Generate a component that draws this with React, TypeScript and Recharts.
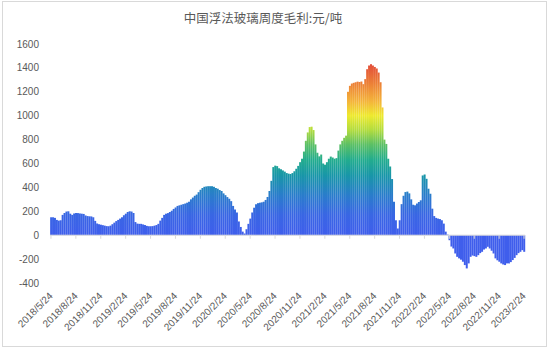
import React from "react"
import { BarChart, Bar, XAxis, YAxis, ReferenceLine } from "recharts"

// weekly float glass gross profit (CNY/ton), starting 2018/5/24
const tickLabels = [
  "2018/5/24", "2018/8/24", "2018/11/24", "2019/2/24", "2019/5/24",
  "2019/8/24", "2019/11/24", "2020/2/24", "2020/5/24", "2020/8/24",
  "2020/11/24", "2021/2/24", "2021/5/24", "2021/8/24", "2021/11/24",
  "2022/2/24", "2022/5/24", "2022/8/24", "2022/11/24", "2023/2/24",
]

const profit2018 = [
  150, 150, 145, 128, 122, 125, 170, 185, 198, 200, 180, 170, 182, 186, 185, 182,
  180, 178, 165, 160, 158, 157, 150, 120, 98, 92, 88, 84, 80, 76, 75, 80,
]
const profit2019 = [
  92, 105, 118, 128, 139, 150, 167, 180, 194, 200, 198, 186, 110,
  97, 95, 95, 90, 85, 78, 75, 75, 76, 80, 85, 95,
  122, 145, 170, 180, 185, 194, 205, 220, 232, 245, 250, 255, 260, 265, 272, 280,
  300, 315, 330, 340, 360, 380, 395, 405, 408, 410, 410,
]
const profit2020 = [
  410, 405, 395, 389, 378, 370, 350, 335, 319, 305, 285, 245, 215, 190, 115, 69,
  30, 14, 50, 95, 139, 190, 230, 258, 268, 272, 275, 280, 295, 320, 370, 455,
  570, 582, 578, 560, 552, 542, 532, 520, 515, 512, 520, 535, 556, 580, 611, 640,
  700, 790, 860, 905, 908,
]
const profit2021 = [
  880, 760, 690, 660, 675, 600, 590, 611, 640, 658, 650, 640, 645, 708, 760, 790,
  815, 833, 1200, 1250, 1269, 1275, 1280, 1285, 1282, 1286, 1264, 1306, 1389, 1420,
  1431, 1420, 1408, 1395, 1361, 1280, 1069, 800, 764, 640, 575, 470, 280, 125, 56,
  125, 260, 330, 361, 365, 350, 300,
]
const profit2022 = [
  255, 250, 265, 278, 292, 500, 508, 472, 389, 347, 222, 160, 145, 139, 135, 125,
  97, 30, 5, -42, -95, -111, -153, -181, -194, -205, -222, -250, -278, -236, -181,
  -170, -175, -181, -167, -150, -139, -120, -111, -97, -111, -130, -153, -194, -210,
  -222, -236, -245, -250, -236, -236, -225,
]
const profit2023 = [-208, -190, -167, -150, -139, -125, -139]

const profit = [...profit2018, ...profit2019, ...profit2020, ...profit2021, ...profit2022, ...profit2023]
const data = profit.map((v, i) => ({ week: i, profit: v }))

const Y_MIN = -400
const Y_MAX = 1600
const yTicks = [-400, -200, 0, 200, 400, 600, 800, 1000, 1200, 1400, 1600]
const LABEL_STEP = 13

const PLOT_TOP = 44
const PLOT_H = 239

// colour by value, painted across the whole plot height
const colorStops: [number, string][] = [
  [1450, "#E2483A"],
  [1270, "#EC8036"],
  [1120, "#F4B43A"],
  [1000, "#EEEA2E"],
  [880, "#B2DC3E"],
  [760, "#5CC064"],
  [630, "#22AC8E"],
  [500, "#1896A8"],
  [330, "#2A7CCC"],
  [170, "#3966E4"],
  [0, "#3F5EEC"],
  [-400, "#3F5EEC"],
]

const TEXT = "#595959"
const LINE = "#d9d9d9"

const DateTick = (props: any) => {
  const { x, y, payload } = props
  const label = tickLabels[payload.value / LABEL_STEP] ?? ""
  return (
    <g transform={`translate(${x},${y + 3})`}>
      <text textAnchor="end" transform="rotate(-45)" dy="0.35em" fontSize={10} fill={TEXT}>
        {label}
      </text>
    </g>
  )
}

export default function App() {
  return (
    <div
      style={{
        position: "absolute",
        left: 0,
        top: 0,
        width: 550,
        height: 351,
        background: "#fff",
        fontFamily: "'Liberation Sans', Arial, sans-serif",
      }}
    >
      <div
        style={{
          position: "absolute",
          left: 2,
          top: 1,
          width: 545,
          height: 346,
          boxSizing: "border-box",
          border: `1px solid ${LINE}`,
        }}
      />
      <div
        style={{
          position: "absolute",
          left: 163,
          top: 9,
          width: 200,
          textAlign: "center",
          fontSize: 12.5,
          lineHeight: "18px",
          color: TEXT,
          fontFamily: "'Noto Sans CJK SC', sans-serif",
        }}
      >
        中国浮法玻璃周度毛利:元/吨
      </div>
      <div style={{ position: "absolute", left: 0, top: 0 }}>
        <BarChart
          width={550}
          height={351}
          data={data}
          margin={{ top: PLOT_TOP, right: 25, bottom: 0, left: 0 }}
          barCategoryGap="7%"
        >
          <defs>
            <linearGradient
              id="profitGrad"
              gradientUnits="userSpaceOnUse"
              x1={0}
              x2={0}
              y1={PLOT_TOP}
              y2={PLOT_TOP + PLOT_H}
            >
              {colorStops.map(([v, c]) => (
                <stop key={v} offset={(Y_MAX - v) / (Y_MAX - Y_MIN)} stopColor={c} />
              ))}
            </linearGradient>
          </defs>
          <XAxis
            dataKey="week"
            interval={LABEL_STEP - 1}
            tickLine={false}
            axisLine={false}
            height={351 - PLOT_TOP - PLOT_H}
            tick={(p: any) => <DateTick {...p} />}
          />
          <YAxis
            domain={[Y_MIN, Y_MAX]}
            ticks={yTicks}
            width={50}
            axisLine={false}
            tickLine={false}
            tickMargin={5}
            tick={{ fill: TEXT, fontSize: 10 }}
          />
          <Bar dataKey="profit" fill="url(#profitGrad)" isAnimationActive={false} />
          <ReferenceLine y={0} stroke={LINE} />
          {tickLabels.map((_, k) => (
            <ReferenceLine
              key={k}
              segment={[
                { x: k * LABEL_STEP, y: 0 },
                { x: k * LABEL_STEP, y: -30 },
              ]}
              stroke={LINE}
            />
          ))}
        </BarChart>
      </div>
    </div>
  )
}
